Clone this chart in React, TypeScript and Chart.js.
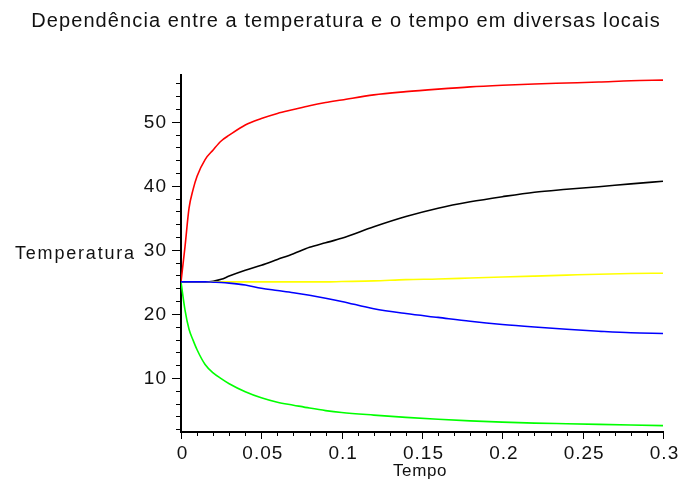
import React, { useEffect, useRef } from 'react';
import { Chart, registerables } from 'chart.js';

Chart.register(...registerables);

const titleText = 'Dependência entre a temperatura e o tempo em diversas locais';
const yAxisTitle = 'Temperatura';
const xAxisTitle = 'Tempo';

const time = [0, 0.0025, 0.005, 0.0075, 0.01, 0.015, 0.02, 0.025, 0.03, 0.04, 0.05, 0.06, 0.07, 0.08, 0.09, 0.1, 0.12, 0.14, 0.16, 0.18, 0.2, 0.22, 0.24, 0.26, 0.28, 0.3];
const redSeries = [25, 30.5, 36.5, 39.4, 41.5, 44.1, 45.6, 47.0, 47.9, 49.5, 50.5, 51.3, 51.9, 52.5, 53.0, 53.4, 54.2, 54.7, 55.1, 55.45, 55.7, 55.9, 56.05, 56.2, 56.4, 56.5];
const blackSeries = [25, 25, 25, 25, 25, 25, 25.1, 25.4, 25.9, 26.8, 27.6, 28.5, 29.4, 30.4, 31.1, 31.8, 33.6, 35.2, 36.5, 37.5, 38.3, 39.0, 39.45, 39.85, 40.3, 40.7];
const yellowSeries = [25, 25, 25, 25, 25, 25, 25, 25, 25, 25, 25, 25, 25, 25, 25, 25.05, 25.15, 25.35, 25.45, 25.6, 25.75, 25.9, 26.05, 26.2, 26.3, 26.35];
const blueSeries = [25, 25, 25, 25, 25, 25, 24.95, 24.9, 24.8, 24.5, 24.0, 23.65, 23.3, 22.9, 22.45, 21.95, 20.8, 20.05, 19.45, 18.85, 18.35, 17.95, 17.6, 17.3, 17.05, 16.95];
const greenSeries = [25, 20.6, 17.6, 15.9, 14.4, 12.1, 10.8, 9.9, 9.1, 7.85, 6.9, 6.2, 5.75, 5.3, 4.9, 4.6, 4.2, 3.85, 3.55, 3.3, 3.1, 2.95, 2.85, 2.75, 2.65, 2.55];

const yTickValues = [10, 20, 30, 40, 50];
const yTickLabels = ['10', '20', '30', '40', '50'];
const xTickValues = [0, 0.05, 0.1, 0.15, 0.2, 0.25, 0.3];
const xTickLabels = ['0', '0.05', '0.1', '0.15', '0.2', '0.25', '0.3'];

const Y_MIN = 1.56;
const Y_MAX = 57.3;
const X_MIN = 0;
const X_MAX = 0.3;

const FONT = '"Liberation Sans", Arial, sans-serif';

const toPoints = (ys: number[]) => ys.map((y, i) => ({ x: time[i], y }));

const maplePlugin = {
  id: 'mapleAxes',
  afterDraw(chart: any) {
    const { ctx, chartArea } = chart;
    const xs = chart.scales.x;
    const ys = chart.scales.y;
    const left = chartArea.left;
    const bottom = chartArea.bottom;
    ctx.save();
    ctx.strokeStyle = '#000';
    ctx.lineWidth = 1;
    ctx.beginPath();
    for (let k = 1; k * 2 <= Y_MAX; k++) {
      const v = k * 2;
      if (v < Y_MIN) continue;
      const py = Math.round(ys.getPixelForValue(v)) + 0.5;
      const len = v % 10 === 0 ? 9 : 5;
      ctx.moveTo(left - len, py);
      ctx.lineTo(left, py);
    }
    for (let k = 0; k <= 30; k++) {
      const px = Math.round(xs.getPixelForValue(k / 100)) + 0.5;
      const len = k % 5 === 0 ? 7 : 4;
      ctx.moveTo(px, bottom);
      ctx.lineTo(px, bottom + len);
    }
    ctx.stroke();

    ctx.fillStyle = '#111';
    (ctx as any).letterSpacing = '1px';
    ctx.font = `19px ${FONT}`;
    ctx.textAlign = 'right';
    ctx.textBaseline = 'middle';
    yTickValues.forEach((v, i) => {
      ctx.fillText(yTickLabels[i], left - 14, ys.getPixelForValue(v) + 1);
    });
    ctx.textAlign = 'center';
    ctx.textBaseline = 'alphabetic';
    xTickValues.forEach((v, i) => {
      ctx.fillText(xTickLabels[i], xs.getPixelForValue(v) + 1.5, bottom + 27);
    });

    (ctx as any).letterSpacing = '1.8px';
    ctx.font = `18px ${FONT}`;
    ctx.textAlign = 'left';
    ctx.fillText(yAxisTitle, 15, 259);

    (ctx as any).letterSpacing = '0.6px';
    ctx.font = `17px ${FONT}`;
    ctx.textAlign = 'center';
    ctx.fillText(xAxisTitle, (chartArea.left + chartArea.right) / 2 - 2, 476);

    (ctx as any).letterSpacing = '1.1px';
    ctx.font = `20px ${FONT}`;
    ctx.textAlign = 'center';
    ctx.fillText(titleText, 346, 27);
    ctx.restore();
  },
};

export default function App() {
  const canvasRef = useRef<HTMLCanvasElement | null>(null);

  useEffect(() => {
    const canvas = canvasRef.current;
    if (!canvas) return;
    const mk = (label: string, ys: number[], color: string) => ({
      label,
      data: toPoints(ys),
      borderColor: color,
      backgroundColor: color,
      borderWidth: 1.6,
      pointRadius: 0,
      fill: false,
      cubicInterpolationMode: 'monotone' as const,
    });
    const chart = new Chart(canvas, {
      type: 'line',
      data: {
        datasets: [
          mk('azul', blueSeries, '#0000ff'),
          mk('amarelo', yellowSeries, '#ffff00'),
          mk('preto', blackSeries, '#000000'),
          mk('verde', greenSeries, '#00ff00'),
          mk('vermelho', redSeries, '#ff0000'),
        ],
      },
      options: {
        animation: false,
        responsive: false,
        devicePixelRatio: 1,
        layout: { padding: { top: 75, right: 17, left: 0, bottom: 0 } },
        plugins: {
          legend: { display: false },
          title: { display: false },
          tooltip: { enabled: false },
        },
        scales: {
          x: {
            type: 'linear',
            min: X_MIN,
            max: X_MAX,
            ticks: { display: false },
            grid: { display: true, drawOnChartArea: false, drawTicks: false },
            border: { display: true, color: '#000', width: 2 },
            afterFit: (s: any) => {
              s.height = 56;
            },
          },
          y: {
            type: 'linear',
            min: Y_MIN,
            max: Y_MAX,
            ticks: { display: false },
            grid: { display: true, drawOnChartArea: false, drawTicks: false },
            border: { display: true, color: '#000', width: 2 },
            afterFit: (s: any) => {
              s.width = 181;
            },
          },
        },
      },
      plugins: [maplePlugin],
    });
    return () => chart.destroy();
  }, []);

  return (
    <div style={{ position: 'fixed', left: 0, top: 0, width: 680, height: 488, background: '#fff' }}>
      <canvas ref={canvasRef} width={680} height={488} style={{ width: 680, height: 488, display: 'block' }} />
    </div>
  );
}
